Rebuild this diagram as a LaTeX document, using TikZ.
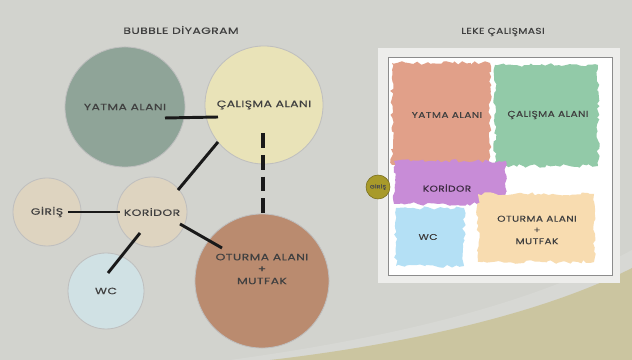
\documentclass[tikz,border=0pt]{standalone}
\usepackage{fontspec}
\newfontfamily\gothic[LetterSpace=5,FakeStretch=1.35,FakeBold=0.4]{Poppins}
\newfontfamily\gothicSmall[LetterSpace=5,FakeStretch=1.25,FakeBold=0.4]{Poppins}
\usetikzlibrary{decorations.pathmorphing}
\definecolor{bgGrey}{RGB}{210,211,206}
\definecolor{sandBeige}{RGB}{203,197,160}
\definecolor{sageGreen}{RGB}{143,164,152}
\definecolor{paleYellow}{RGB}{233,227,184}
\definecolor{lightSand}{RGB}{222,212,192}
\definecolor{paleBlue}{RGB}{208,225,228}
\definecolor{clayBrown}{RGB}{186,139,111}
\definecolor{spotSalmon}{RGB}{225,160,137}
\definecolor{spotGreen}{RGB}{146,202,168}
\definecolor{spotPurple}{RGB}{200,140,215}
\definecolor{spotBlue}{RGB}{180,224,245}
\definecolor{spotPeach}{RGB}{248,220,176}
\definecolor{spotOlive}{RGB}{168,154,42}
\begin{document}
\begin{tikzpicture}[x=0.025cm,y=0.025cm,
lbl/.style={font=\gothic\fontsize{6.5}{8.5}\selectfont,text=black!75,align=center,inner sep=0pt},
spotLbl/.style={font=\gothicSmall\fontsize{6}{8}\selectfont,text=black!75,align=center,inner sep=0pt},
bubble/.style={circle,draw=black!25,line width=0.6pt,inner sep=0pt,
  font=\gothic\fontsize{6.5}{8.5}\selectfont,text=black!75},
link/.style={draw=black!90,line width=2.1pt},
dashLink/.style={draw=black!90,line width=2.8pt,dash pattern=on 10.5pt off 5pt},
spot/.style={decorate,decoration={random steps,segment length=2.5pt,amplitude=1.3pt}}]
\pgfmathsetseed{11}
\path[use as bounding box,fill=bgGrey] (0,0) rectangle (632,360);
\fill[white!12!bgGrey] (230,0) .. controls (390,22) and (530,55) .. (632,110) -- (632,0) -- cycle;
\fill[sandBeige] (270,0) .. controls (400,15) and (540,45) .. (632,92) -- (632,0) -- cycle;
% bubble diagram
\node[lbl] (bubbleTitle) at (181,330) {BUBBLE DİYAGRAM};
\node[bubble,fill=sageGreen,minimum size=3.0cm] (yatma) at (125,253) {YATMA ALANI};
\node[bubble,fill=paleYellow,minimum size=2.95cm] (calisma) at (264,255) {ÇALIŞMA ALANI};
\node[bubble,fill=lightSand,minimum size=1.7cm] (giris) at (47,148) {GİRİŞ};
\node[bubble,fill=lightSand,minimum size=1.75cm] (koridor) at (152,148) {KORİDOR};
\node[bubble,fill=paleBlue,minimum size=1.9cm] (wc) at (106,69) {\raisebox{-3pt}{WC}};
\node[bubble,fill=clayBrown,minimum size=3.35cm] (oturma) at (262,79) {};
\node[lbl] (oturmaText) at (262,91) {OTURMA ALANI\\+\\MUTFAK};
\draw[link] ([shift={(40,-11)}]yatma.center) -- ([shift={(-46,-12)}]calisma.center);
\draw[link] ([shift={(-46,-37)}]calisma.center) -- ([shift={(26,22)}]koridor.center);
\draw[dashLink] ([shift={(-1,-28)}]calisma.center) -- ([shift={(1,61)}]oturma.center);
\draw[link] ([shift={(21,0)}]giris.center) -- ([shift={(-32,0)}]koridor.center);
\draw[link] ([shift={(28,-12)}]koridor.center) -- ([shift={(-40,33)}]oturma.center);
\draw[link] ([shift={(-12,-21)}]koridor.center) -- ([shift={(2,18)}]wc.center);
% leke calismasi
\node[spotLbl] (lekeTitle) at (503,328) {LEKE ÇALIŞMASI};
\fill[white!60!bgGrey] (378,77) rectangle (620,312);
\draw[black!45,fill=white,line width=0.5pt] (388,85) rectangle (612,303);
\fill[spotSalmon,spot] (392,195) -- (490,195) -- (490,297) -- (392,297) -- cycle;
\fill[spotGreen,spot] (495,194) -- (598,194) -- (598,295) -- (495,295) -- cycle;
\fill[spotPurple,spot] (394,156) -- (506,156) -- (506,199) -- (394,199) -- cycle;
\fill[spotBlue,spot] (396,94) -- (464,94) -- (464,152) -- (396,152) -- cycle;
\fill[spotPeach,spot] (478,98) -- (594,98) -- (594,166) -- (478,166) -- cycle;
\node[circle,fill=spotOlive,draw=spotOlive!70!black,minimum size=0.6cm,inner sep=0pt,
  font=\gothicSmall\fontsize{3.5}{4}\selectfont,text=black!70] (lekeGiris) at (378,173) {GİRİŞ};
\node[spotLbl] (lekeYatma) at (447,245) {YATMA ALANI};
\node[spotLbl] (lekeCalisma) at (548,245) {ÇALIŞMA ALANI};
\node[spotLbl,text=black!70!spotPurple] (lekeKoridor) at (447,172) {KORİDOR};
\node[spotLbl] (lekeWc) at (428,123) {WC};
\node[spotLbl] (lekeOturma) at (537,130) {OTURMA ALANI\\+\\MUTFAK};
\end{tikzpicture}
\end{document}
